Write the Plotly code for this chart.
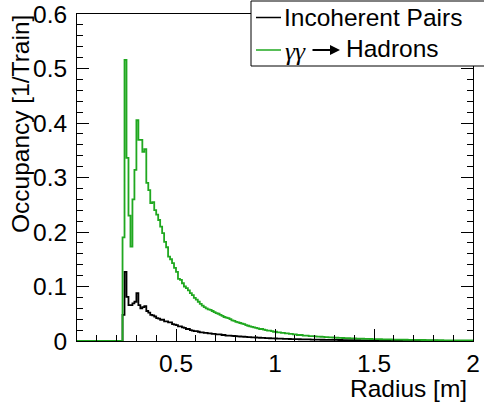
import numpy as np
import plotly.graph_objects as go

# ---- data (histograms, 200 bins of 0.01 m from 0 to 2 m) ----
radius_edges = np.round(np.linspace(0.0, 2.0, 201), 3)
leading_zero_bins = [0.0] * 23  # bins 0.00 - 0.22

incoherent_pairs = leading_zero_bins + [
    0.048, 0.127, 0.081, 0.066, 0.066, 0.069, 0.072,
    0.088, 0.066, 0.060, 0.062, 0.064, 0.055, 0.052, 0.048, 0.047, 0.045,
    0.042, 0.041, 0.039, 0.039, 0.036, 0.036, 0.034, 0.034, 0.031, 0.030,
    0.029, 0.027, 0.027, 0.025, 0.024, 0.022, 0.022, 0.020, 0.019, 0.018,
    0.018, 0.017, 0.016, 0.016, 0.015, 0.015, 0.014, 0.014, 0.013, 0.013,
    0.012, 0.012, 0.012, 0.011, 0.011, 0.010, 0.010, 0.010, 0.0095, 0.0092,
    0.0090, 0.0086, 0.0083, 0.0080, 0.0078, 0.0075, 0.0072, 0.0070, 0.0068, 0.0066,
    0.0064, 0.0062, 0.0060, 0.0058, 0.0056, 0.0054, 0.0052, 0.0050, 0.0049, 0.0048,
    0.0046, 0.0045, 0.0043, 0.0042, 0.0040, 0.0039, 0.0038, 0.0037, 0.0036, 0.0035,
    0.0034, 0.0033, 0.0032, 0.0031, 0.0030, 0.0029, 0.0028, 0.0028, 0.0027, 0.0026,
    0.0025, 0.0025, 0.0024, 0.0023, 0.0023, 0.0022, 0.0021, 0.0021, 0.0020, 0.0020,
    0.0019, 0.0019, 0.0018, 0.0018, 0.0017, 0.0017, 0.0016, 0.0016, 0.0015, 0.0015,
    0.0015, 0.0014, 0.0014, 0.0013, 0.0013, 0.0013, 0.0012, 0.0012, 0.0012, 0.0011,
    0.0011, 0.0011, 0.0010, 0.0010, 0.0010, 0.0010, 0.0009, 0.0009, 0.0009, 0.0009,
    0.0008, 0.0008, 0.0008, 0.0008, 0.0007, 0.0007, 0.0007, 0.0007, 0.0007, 0.0006,
    0.0006, 0.0006, 0.0006, 0.0006, 0.0006, 0.0005, 0.0005, 0.0005, 0.0005, 0.0005,
    0.0005, 0.0005, 0.0004, 0.0004, 0.0004, 0.0004, 0.0004, 0.0004, 0.0004, 0.0004,
    0.0004, 0.0003, 0.0003, 0.0003, 0.0003, 0.0003, 0.0003, 0.0003, 0.0003, 0.0003,
]

gg_hadrons = leading_zero_bins + [
    0.190, 0.516, 0.336, 0.230, 0.173, 0.260, 0.314,
    0.405, 0.369, 0.369, 0.347, 0.352, 0.290, 0.277, 0.253, 0.255, 0.240,
    0.232, 0.222, 0.210, 0.198, 0.182, 0.172, 0.155, 0.150, 0.143, 0.134,
    0.127, 0.114, 0.112, 0.106, 0.100, 0.097, 0.093, 0.088, 0.084, 0.079,
    0.076, 0.072, 0.068, 0.065, 0.062, 0.060, 0.058, 0.057, 0.055, 0.053,
    0.051, 0.050, 0.048, 0.046, 0.044, 0.043, 0.042, 0.040, 0.038, 0.037,
    0.035, 0.034, 0.033, 0.032, 0.031, 0.029, 0.028, 0.027, 0.026, 0.025,
    0.024, 0.023, 0.022, 0.022, 0.021, 0.020, 0.019, 0.019, 0.018, 0.017,
    0.017, 0.016, 0.016, 0.015, 0.015, 0.014, 0.014, 0.013, 0.013, 0.012,
    0.012, 0.011, 0.011, 0.011, 0.010, 0.010, 0.010, 0.009, 0.009, 0.009,
    0.0085, 0.0082, 0.0080, 0.0078, 0.0075, 0.0072, 0.0070, 0.0068, 0.0066, 0.0064,
    0.0062, 0.0060, 0.0058, 0.0056, 0.0055, 0.0053, 0.0051, 0.0050, 0.0048, 0.0047,
    0.0046, 0.0044, 0.0043, 0.0042, 0.0041, 0.0040, 0.0039, 0.0038, 0.0037, 0.0036,
    0.0035, 0.0034, 0.0033, 0.0032, 0.0031, 0.0030, 0.0030, 0.0029, 0.0028, 0.0027,
    0.0027, 0.0026, 0.0025, 0.0025, 0.0024, 0.0023, 0.0023, 0.0022, 0.0021, 0.0021,
    0.0020, 0.0020, 0.0019, 0.0019, 0.0018, 0.0018, 0.0017, 0.0017, 0.0016, 0.0016,
    0.0015, 0.0015, 0.0015, 0.0014, 0.0014, 0.0013, 0.0013, 0.0013, 0.0012, 0.0012,
    0.0012, 0.0011, 0.0011, 0.0011, 0.0010, 0.0010, 0.0010, 0.0009, 0.0009, 0.0009,
]

series_names = ["Incoherent Pairs", "γγ → Hadrons"]
x_tick_values = [0.5, 1.0, 1.5, 2.0]
x_tick_labels = ["0.5", "1", "1.5", "2"]
y_tick_values = [0, 0.1, 0.2, 0.3, 0.4, 0.5, 0.6]
y_tick_labels = ["0", "0.1", "0.2", "0.3", "0.4", "0.5", "0.6"]

BLACK = "#000000"
GREEN = "#20a820"
FONT = "Liberation Sans, Arial, Helvetica, sans-serif"
FS = 24.5

W, H = 484, 404
ML, MR, MT, MB = 77, 11, 14, 63
PW, PH = W - ML - MR, H - MT - MB


def px_x(p):
    return (p - ML) / PW


def px_y(p):
    return (H - MB - p) / PH


def step(vals):
    return list(radius_edges), list(vals) + [vals[-1]]


fig = go.Figure()
for vals, color, name in [(incoherent_pairs, BLACK, series_names[0]),
                          (gg_hadrons, GREEN, series_names[1])]:
    xs, ys = step(vals)
    fig.add_trace(go.Scatter(x=xs, y=ys, mode="lines", line_shape="hv",
                             line=dict(color=color, width=1.8), name=name,
                             showlegend=False, hoverinfo="skip"))

axis_common = dict(showline=True, linecolor="black", linewidth=1,
                   ticks="inside", tickcolor="black", tickwidth=1, ticklen=12,
                   showgrid=False, zeroline=False, automargin=False,
                   ticklabeloverflow="allow",
                   tickfont=dict(family=FONT, size=FS, color="black"))

fig.update_xaxes(range=[0, 2], tickmode="array", tickvals=x_tick_values,
                 ticktext=x_tick_labels, mirror=True, ticklabelstandoff=1,
                 minor=dict(ticks="inside", tickmode="linear", tick0=0, dtick=0.1,
                            ticklen=6, tickcolor="black", tickwidth=1, showgrid=False),
                 **axis_common)
fig.update_yaxes(range=[0, 0.6], tickmode="array", tickvals=y_tick_values,
                 ticktext=y_tick_labels, mirror="ticks", ticklabelstandoff=4,
                 minor=dict(ticks="inside", tickmode="linear", tick0=0, dtick=0.02,
                            ticklen=6, tickcolor="black", tickwidth=1, showgrid=False),
                 **axis_common)

annotations = [
    dict(text="Radius [m]", xref="paper", yref="paper", x=px_x(469), y=px_y(388),
         xanchor="right", yanchor="middle", showarrow=False,
         font=dict(family=FONT, size=FS, color="black")),
    dict(text="Occupancy [1/Train]", xref="paper", yref="paper", x=px_x(20), y=px_y(13),
         xanchor="center", yanchor="top", textangle=-90, showarrow=False,
         font=dict(family=FONT, size=FS, color="black")),
]

# legend box (drawn manually, ROOT style)
shapes = [
    dict(type="rect", xref="paper", yref="paper", x0=px_x(251), x1=px_x(492),
         y0=px_y(66), y1=px_y(1), fillcolor="white", line=dict(color="black", width=1),
         layer="above"),
    dict(type="line", xref="paper", yref="paper", x0=px_x(256), x1=px_x(281),
         y0=px_y(17.5), y1=px_y(17.5), line=dict(color=BLACK, width=1.5), layer="above"),
    dict(type="line", xref="paper", yref="paper", x0=px_x(256), x1=px_x(281),
         y0=px_y(50), y1=px_y(50), line=dict(color=GREEN, width=1.5), layer="above"),
]
annotations += [
    dict(text=series_names[0], xref="paper", yref="paper", x=px_x(282), y=px_y(18),
         xanchor="left", yanchor="middle", showarrow=False,
         font=dict(family=FONT, size=FS, color="black")),
    dict(text="<i>γγ</i>", xref="paper", yref="paper", x=px_x(283), y=px_y(51),
         xanchor="left", yanchor="middle", showarrow=False,
         font=dict(family="Liberation Serif, serif", size=FS + 1, color="black")),
    dict(text="", xref="paper", yref="paper", x=px_x(340), y=px_y(50),
         ax=-29, ay=0, showarrow=True, arrowhead=2, arrowsize=1, arrowwidth=2,
         arrowcolor="black"),
    dict(text="Hadrons", xref="paper", yref="paper", x=px_x(344), y=px_y(49),
         xanchor="left", yanchor="middle", showarrow=False,
         font=dict(family=FONT, size=FS, color="black")),
]

fig.update_layout(width=W, height=H, autosize=False,
                  margin=dict(l=ML, r=MR, t=MT, b=MB, pad=0, autoexpand=False),
                  paper_bgcolor="white", plot_bgcolor="white",
                  showlegend=False, shapes=shapes, annotations=annotations,
                  font=dict(family=FONT, size=FS, color="black"))

fig.write_html("out.html", config={"displayModeBar": False},
               post_script="document.body.style.margin='0px';document.body.style.overflow='hidden';")
